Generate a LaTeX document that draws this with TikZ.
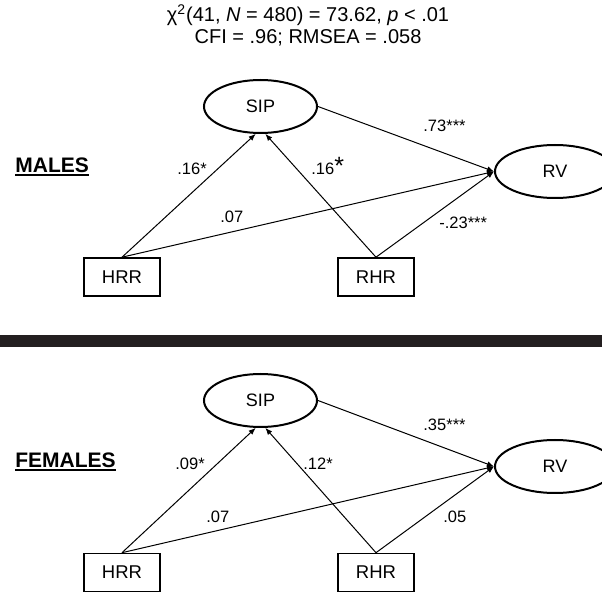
\documentclass[tikz,border=0pt]{standalone}
\usepackage{fontspec}
\setmainfont{Liberation Sans}
\usepackage{tikz}
\usetikzlibrary{arrows.meta,shapes,positioning}
\definecolor{barcolor}{RGB}{35,31,32}
\newcommand{\ulabel}[1]{\sbox0{#1}\rlap{\usebox0}\rule[-1.6pt]{\wd0}{1.1pt}}
\tikzset{latent/.style={draw, ellipse, line width=1pt, minimum width=56.5pt,
		minimum height=26.5pt, inner sep=0pt, font=\fontsize{9}{11}\selectfont},
	observed/.style={draw, rectangle, line width=0.8pt, minimum width=38pt,
		minimum height=19pt, inner sep=0pt, font=\fontsize{9.25}{11}\selectfont},
	arrow/.style={draw, line width=0.5pt, -{Latex[length=3.5pt,width=2.8pt]}},
	coef/.style={anchor=base west, inner sep=0pt, font=\fontsize{8.25}{10}\selectfont},
	group/.style={anchor=base west, inner sep=0pt, font=\fontsize{10.5}{12}\selectfont\bfseries},
	fitstat/.style={anchor=base, inner sep=0pt, font=\fontsize{10}{12}\selectfont}}

\begin{document}
\begin{tikzpicture}[x=0.5pt,y=-0.5pt]
		\useasboundingbox (0,0) rectangle (602,594);
		\clip (0,0) rectangle (602,594);
		\node [fitstat](chisq) at (308,21.7){χ\textsuperscript{2}(41, \textit{N} = 480) = 73.62, \textit{p} < .01};
		\node [fitstat](cfi) at (308,43){CFI = .96; RMSEA = .058};
		
		% males
		\node [latent](sipm) at (260.5,106.5){SIP};
		\node [latent, minimum width=60pt](rvm) at (555,171.5){RV};
		\node [observed](hrrm) at (122,277){HRR};
		\node [observed](rhrm) at (376,277){RHR};
		\node [group](males) at (15,173){\ulabel{MALES}};
		
		\draw [arrow] (hrrm.north)--(sipm.260);
		\draw [arrow] (rhrm.north)--(sipm.280);
		\draw [arrow] (sipm.east)--(rvm.west);
		\draw [arrow] (hrrm.north)--(rvm.west);
		\draw [arrow] (rhrm.north)--(rvm.west);
		\node [coef](hsm) at (177,175){.16*};
		\node [coef](rsm) at (311,175){.16{\fontsize{12.5}{12}\selectfont *}};
		\node [coef](hvm) at (220,223){.07};
		\node [coef](svm) at (423,132){.73***};
		\node [coef](rvcm) at (439,228){-.23***};
		
		\fill [barcolor] (0,335) rectangle (602,347);
		
		% females
		\node [latent](sipf) at (260.5,400.5){SIP};
		\node [latent, minimum width=60pt](rvf) at (555,466.5){RV};
		\node [observed](hrrf) at (122,572.5){HRR};
		\node [observed](rhrf) at (376,572.5){RHR};
		\node [group](females) at (15,468){\ulabel{FEMALES}};
		
		\draw [arrow] (hrrf.north)--(sipf.260);
		\draw [arrow] (rhrf.north)--(sipf.280);
		\draw [arrow] (sipf.east)--(rvf.west);
		\draw [arrow] (hrrf.north)--(rvf.west);
		\draw [arrow] (rhrf.north)--(rvf.west);
		\node [coef](hsf) at (175,470){.09*};
		\node [coef](rsf) at (303,470){.12*};
		\node [coef](hvf) at (206,523){.07};
		\node [coef](svf) at (423,430){.35***};
		\node [coef](rvcf) at (443,523){.05};
	\end{tikzpicture}
\end{document}
